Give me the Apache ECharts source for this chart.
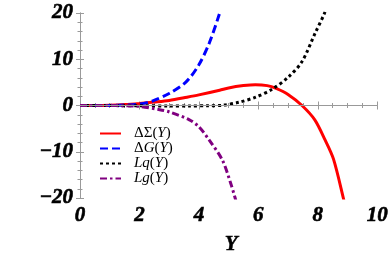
<!DOCTYPE html>
<html><head><meta charset="utf-8">
<script src="https://cdn.jsdelivr.net/npm/echarts@6/dist/echarts.min.js"></script>
<style>html,body{margin:0;padding:0;background:#fff}#c{width:391px;height:262px}</style>
</head><body><div id="c"></div>
<script>
const seriesNames = ['ΔΣ(Y)', 'ΔG(Y)', 'Lq(Y)', 'Lg(Y)'];
const xTicks = [0, 2, 4, 6, 8, 10];
const yTicks = [-20, -10, 0, 10, 20];
const deltaSigma = [[0,0],[0.5,0],[1,0.05],[1.5,0.2],[2,0.45],[2.5,0.75],[3,1.1],[3.6,1.8],[4,2.3],[4.7,3.3],[5,3.8],[5.5,4.3],[5.9,4.5],[6.3,4.3],[6.6,3.7],[7.0,2.4],[7.47,0],[7.9,-3.1],[8.25,-7.5],[8.53,-11.6],[8.86,-20],[9.0,-24]];
const deltaG = [[0,0],[0.5,0],[1,0.02],[1.5,0.1],[2,0.3],[2.45,1.0],[3,2.6],[3.57,5.1],[4,8.8],[4.35,13.5],[4.7,20],[4.85,23.5]];
const lq = [[0,0],[1,-0.02],[2,-0.05],[3,-0.1],[3.68,-0.1],[4.3,-0.05],[4.79,0.05],[5.35,0.7],[5.91,1.8],[6.46,3.5],[7.02,6.2],[7.47,9.5],[7.91,15.6],[8.23,20],[8.4,23]];
const lg = [[0,0],[1,0],[1.5,-0.05],[2,-0.2],[2.68,-0.9],[3.01,-1.4],[3.68,-3.1],[4.0,-4.6],[4.35,-7.5],[4.79,-11.8],[5.07,-16.8],[5.22,-20],[5.35,-23]];

const serif = 'Liberation Serif';
const frame = '#9a9a9a';
const fmt = v => (v < 0 ? '\u2212' + Math.abs(v) : String(v));
const tickLabel = {fontFamily: serif, fontWeight: 'bold', fontStyle: 'italic', fontSize: 21, color: '#000',
  textBorderColor: '#000', textBorderWidth: 0.6};
const legendRich = {
  u: {fontFamily: serif, fontStyle: 'normal', fontSize: 15, lineHeight: 14, color: '#000'},
  i: {fontFamily: serif, fontStyle: 'italic', fontSize: 15, lineHeight: 14, color: '#000'}
};
const legendFmt = {
  'ΔΣ(Y)': '{u|ΔΣ(}{i|Y}{u|)}',
  'ΔG(Y)': '{u|Δ}{i|G}{u|(}{i|Y}{u|)}',
  'Lq(Y)': '{i|Lq}{u|(}{i|Y}{u|)}',
  'Lg(Y)': '{i|Lg}{u|(}{i|Y}{u|)}'
};
const baseAxis = {
  axisLine: {show: true, lineStyle: {color: frame, width: 1}},
  axisTick: {show: true, inside: true, length: 4, lineStyle: {color: frame}},
  minorTick: {show: true, length: 2.5, lineStyle: {color: frame}},
  splitLine: {show: false}
};
const mkSeries = (i, data, color, width, type) => ({
  name: seriesNames[i], type: 'line', data: data, showSymbol: false, symbol: 'none', smooth: 0.3,
  lineStyle: {color: color, width: width, type: type}, itemStyle: {color: color}
});
const chart = echarts.init(document.getElementById('c'), null, {renderer: 'canvas'});
const s0 = mkSeries(0, deltaSigma, '#ff0000', 3, 'solid');
s0.markLine = {silent: true, symbol: 'none', label: {show: false}, lineStyle: {color: '#999', width: 1, type: 'solid'}, data: [{yAxis: 0}]};
chart.setOption({
  animation: false,
  grid: {left: 80, right: 12, top: 13, bottom: 64},
  legend: {
    data: seriesNames, orient: 'vertical', left: 94, top: 121,
    itemWidth: 21, itemHeight: 8, itemGap: 0,
    itemStyle: {opacity: 0},
    textStyle: {lineHeight: 14, padding: [0, 0, 0, 8], rich: legendRich},
    formatter: n => legendFmt[n]
  },
  xAxis: [
    Object.assign({}, baseAxis, {type: 'value', position: 'bottom', min: 0, max: 10, interval: 2,
      minorTick: Object.assign({}, baseAxis.minorTick, {splitNumber: 4}),
      axisLabel: Object.assign({}, tickLabel, {margin: 7, formatter: fmt}),
      name: 'Y', nameLocation: 'middle', nameGap: 36,
      nameTextStyle: {fontFamily: serif, fontWeight: 'bold', fontStyle: 'italic', fontSize: 21, color: '#000',
        textBorderColor: '#000', textBorderWidth: 0.5, padding: [0, 0, 0, 5]}}),
    Object.assign({}, baseAxis, {type: 'value', position: 'top', min: 0, max: 10, interval: 2,
      minorTick: Object.assign({}, baseAxis.minorTick, {splitNumber: 4}), axisLabel: {show: false}})
  ],
  yAxis: [
    Object.assign({}, baseAxis, {type: 'value', position: 'left', min: -20, max: 20, interval: 10,
      minorTick: Object.assign({}, baseAxis.minorTick, {splitNumber: 5}),
      axisLabel: Object.assign({}, tickLabel, {margin: 7, formatter: fmt})}),
    Object.assign({}, baseAxis, {type: 'value', position: 'right', min: -20, max: 20, interval: 10,
      minorTick: Object.assign({}, baseAxis.minorTick, {splitNumber: 5}), axisLabel: {show: false}})
  ],
  series: [
    s0,
    mkSeries(1, deltaG, '#0000ff', 3, [8, 4]),
    mkSeries(2, lq, '#000000', 3, [3, 3]),
    mkSeries(3, lg, '#800080', 3, [7, 3, 2.5, 3])
  ]
});
</script></body></html>
